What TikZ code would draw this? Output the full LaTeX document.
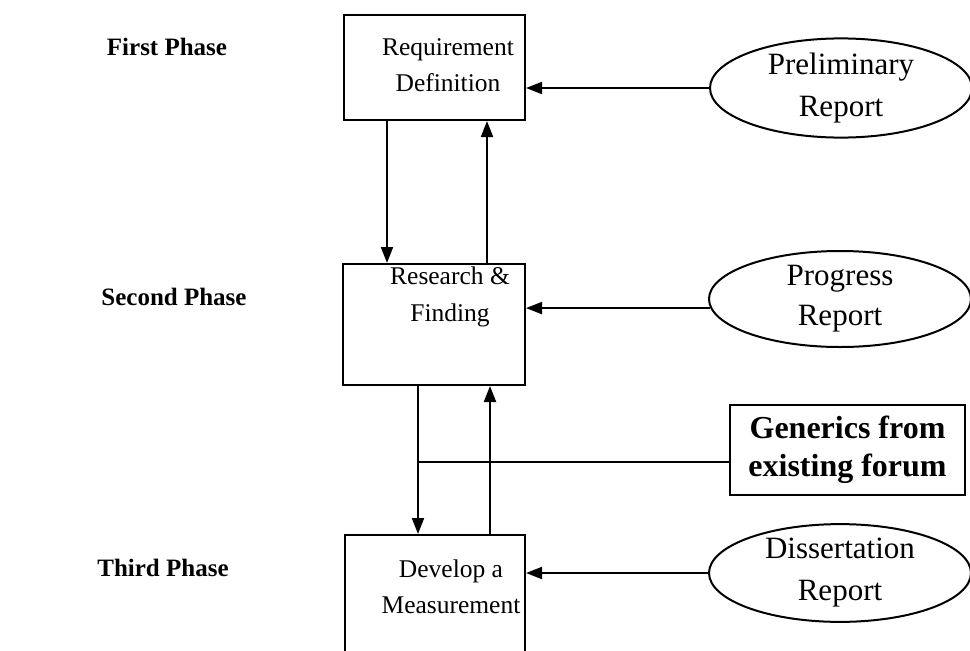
\documentclass[tikz,border=0pt]{standalone}
\usepackage{fontspec}
\setmainfont{Liberation Serif}
\usetikzlibrary{arrows.meta,shapes.geometric,calc}

\tikzset{
  box/.style={draw, line width=2pt, rectangle, inner sep=0pt},
  oval/.style={draw, line width=2pt, ellipse, inner sep=0pt,
    minimum width=262pt, minimum height=96pt,
    align=center, font=\fontsize{31}{42}\selectfont},
  body/.style={align=center, font=\fontsize{25.5}{36.5}\selectfont},
  phase/.style={font=\fontsize{25}{30}\selectfont\bfseries},
  link/.style={line width=2pt},
  arr/.style={link, -{Triangle[length=16pt,width=12pt]}}
}

\begin{document}
\begin{tikzpicture}[x=1pt,y=-1pt]
\path[use as bounding box] (0,0) rectangle (970,651);
\clip (0,0) rectangle (970,651);

% phase labels
\node[phase] (p1) at (167,47) {First Phase};
\node[phase] (p2) at (174,297) {Second Phase};
\node[phase] (p3) at (163,568) {Third Phase};

% process boxes
\node[box, minimum width=181pt, minimum height=105pt] (req) at (434.5,67.5) {};
\node[body] (reqT) at (448,65) {Requirement\\Definition};

\node[box, minimum width=182pt, minimum height=121pt] (res) at (434,324.5) {};
\node[body] (resT) at (450,297) {Research \&\\Finding};

\node[box, minimum width=180pt, minimum height=160pt] (dev) at (435,615) {};
\node[body] (devT) at (451,587) {Develop a\\Measurement};

% report ovals
\node[oval] (pre) at (841,88) {Preliminary\\Report};
\node[oval] (pro) at (840,299) {\raisebox{-4pt}{Progress}\\\raisebox{-2pt}{Report}};
\node[oval] (dis) at (840,573) {Dissertation\\Report};

% generics source
\node[box, minimum width=235pt, minimum height=90pt, align=center,
      font=\fontsize{32}{38}\selectfont\bfseries] (gen) at (847.5,450)
      {Generics from\\existing forum};

% vertical flow positions
\coordinate (d1) at (387,0);
\coordinate (u1) at (487,0);
\coordinate (d2) at (418,0);
\coordinate (u2) at (490,0);

% flow between phases
\draw[arr] (req.south -| d1) -- (res.north -| d1);
\draw[arr] (res.north -| u1) -- (req.south -| u1);
\draw[arr] (res.south -| d2) -- (dev.north -| d2);
\draw[arr] (dev.north -| u2) -- (res.south -| u2);

% reports feeding the boxes
\draw[arr] (pre.west) -- (req.east |- pre.west);
\draw[arr] (pro.184) -- (res.east |- pro.184);
\draw[arr] (dis.west) -- (dev.east |- dis.west);

% generics joins the downward flow
\draw[link] (gen.186) -- (gen.186 -| d2);
\end{tikzpicture}
\end{document}
